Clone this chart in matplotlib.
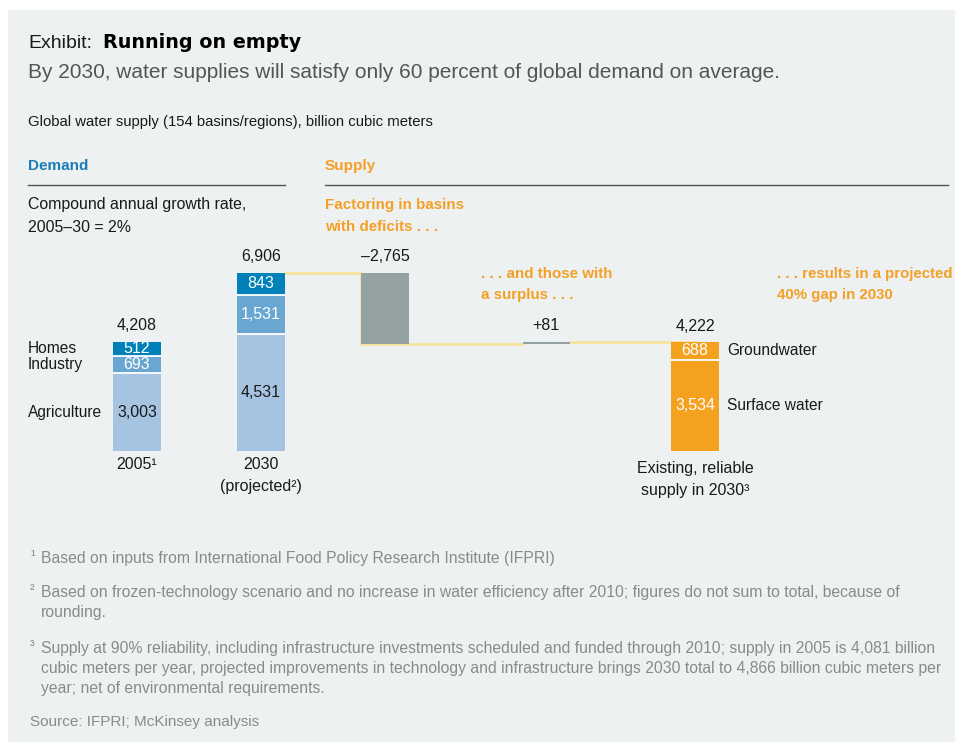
import matplotlib
matplotlib.use("Agg")
import matplotlib.pyplot as plt
from matplotlib import font_manager
from matplotlib.patches import Rectangle

# demand by sector, billion cubic meters
years = ["2005\u00b9", "2030"]
homes = [512, 843]
industry = [693, 1531]
agriculture = [3003, 4531]
demand_total = [4208, 6906]

# supply side of the bridge
deficit = -2765
surplus = 81
groundwater = 688
surface_water = 3534
supply_total = 4222

W, H = 960, 742
names = {f.name for f in font_manager.fontManager.ttflist}
NARROW = "Liberation Sans Narrow" if "Liberation Sans Narrow" in names else "Liberation Sans"

DARK = "#1a1a1a"
BLUE_D = "#0081b9"
BLUE_M = "#6aa6d2"
BLUE_L = "#a6c4e1"
GRAY = "#94a3a1"
ORANGE = "#f3a11f"
ORANGE_TXT = "#f3a024"
YELLOW = "#f6e3a0"
NOTE = "#8a8a8a"

fig = plt.figure(figsize=(W / 100, H / 100), dpi=100, facecolor="white")
fig.patches.append(Rectangle((8 / W, 0), 947 / W, 732 / H, transform=fig.transFigure,
                             facecolor="#edf1f2", edgecolor="none", zorder=-10))


def ftext(x, y, s, **kw):
    kw.setdefault("family", NARROW)
    kw.setdefault("va", "center")
    kw.setdefault("color", DARK)
    fig.text(x / W, 1 - y / H, s, **kw)


# header
ftext(28, 43, "Exhibit:", family="Liberation Sans", fontsize=14)
ftext(103, 43, "Running on empty", family="DejaVu Sans", weight="heavy", fontsize=13.8, color="black")
ftext(28, 73, "By 2030, water supplies will satisfy only 60 percent of global demand on average.",
      family="Liberation Sans", fontsize=15, color="#555555")
ftext(28, 122, "Global water supply (154 basins/regions), billion cubic meters", fontsize=10.7)

ftext(28, 166, "Demand", fontsize=11, weight="bold", color="#1b7db8")
ftext(325, 166, "Supply", fontsize=11, weight="bold", color=ORANGE_TXT)
fig.add_artist(plt.Line2D([28 / W, 285 / W], [1 - 185 / H] * 2, color="#555555", lw=1))
fig.add_artist(plt.Line2D([325 / W, 948 / W], [1 - 185 / H] * 2, color="#555555", lw=1))

ftext(28, 205, "Compound annual growth rate,", fontsize=11.4)
ftext(28, 227, "2005\u201330 = 2%", fontsize=11.4)
ftext(325, 205, "Factoring in basins", fontsize=10.9, weight="bold", color=ORANGE_TXT)
ftext(325, 227, "with deficits . . .", fontsize=10.9, weight="bold", color=ORANGE_TXT)
ftext(481, 274, ". . . and those with", fontsize=10.9, weight="bold", color=ORANGE_TXT)
ftext(481, 295, "a surplus . . .", fontsize=10.9, weight="bold", color=ORANGE_TXT)
ftext(777, 274, ". . . results in a projected", fontsize=10.8, weight="bold", color=ORANGE_TXT)
ftext(777, 295, "40% gap in 2030", fontsize=10.8, weight="bold", color=ORANGE_TXT)

# bar area
ax = fig.add_axes([75 / W, (H - 450.7) / H, 682 / W, 206 / H])
ax.set_xlim(-0.5, 5.0)
ax.set_ylim(0, 8000)
ax.axis("off")

xs = [0, 1]
bw = 0.38
x_def, x_sur, x_sup = 2, 3.3, 4.5

bot_ind = agriculture
bot_home = [a + i for a, i in zip(agriculture, industry)]
ax.bar(xs, agriculture, bw, color=BLUE_L, zorder=2)
ax.bar(xs, industry, bw, bottom=bot_ind, color=BLUE_M, zorder=2)
ax.bar(xs, homes, bw, bottom=bot_home, color=BLUE_D, zorder=2)
ax.hlines(agriculture + bot_home, [x - bw / 2 for x in xs * 2], [x + bw / 2 for x in xs * 2],
          color="white", lw=1.3, zorder=3)

def_bottom = demand_total[1] + deficit
ax.bar(x_def, -deficit, bw, bottom=def_bottom, color=GRAY, zorder=2)
ax.bar(x_sur, surplus, bw, bottom=def_bottom, color=GRAY, zorder=2)
ax.bar(x_sup, surface_water, bw, color=ORANGE, zorder=2)
ax.bar(x_sup, groundwater, bw, bottom=surface_water, color=ORANGE, zorder=2)
ax.hlines(surface_water, x_sup - bw / 2, x_sup + bw / 2, color="white", lw=1.3, zorder=3)

# bridge connectors
lk = dict(color=YELLOW, lw=2, zorder=1)
ax.plot([xs[1] + bw / 2, x_def - bw / 2, x_def - bw / 2, x_sur - bw / 2],
        [demand_total[1], demand_total[1], def_bottom, def_bottom], **lk)
ax.plot([x_sur + bw / 2, x_sup], [supply_total, supply_total], **lk)


def label(x, y, s, dy=0, color=DARK, **kw):
    ax.annotate(s, (x, y), xytext=(0, dy), textcoords="offset points",
                ha="center", va="center", family=NARROW, fontsize=11.5, color=color, **kw)


for x, t, h, i, a in zip(xs, demand_total, homes, industry, agriculture):
    label(x, a + i + h, f"{t:,}", 12)
    label(x, a + i + h / 2, f"{h:,}", color="white")
    label(x, a + i / 2, f"{i:,}", color="white")
    label(x, a / 2, f"{a:,}")
label(x_def, demand_total[1], f"\u2013{-deficit:,}", 12)
label(x_sur, def_bottom + surplus, f"+{surplus}", 12)
label(x_sup, supply_total, f"{supply_total:,}", 11)
label(x_sup, surface_water + groundwater / 2, f"{groundwater:,}", color="white")
label(x_sup, surface_water / 2, f"{surface_water:,}", color="white")

label(xs[0], 0, years[0], -10)
label(xs[1], 0, years[1], -10)
label(xs[1], 0, "(projected\u00b2)", -26)
label(x_sup, 0, "Existing, reliable", -12.5)
label(x_sup, 0, "supply in 2030\u00b3", -28.5)

# side labels for segments
side = [("Homes", agriculture[0] + industry[0] + homes[0] / 2),
        ("Industry", agriculture[0] + industry[0] / 2),
        ("Agriculture", agriculture[0] / 2)]
for s, y in side:
    ax.annotate(s, (28, y), xycoords=("figure pixels", "data"), va="center",
                family=NARROW, fontsize=11.2, color=DARK)
for s, y in [("Groundwater", surface_water + groundwater / 2), ("Surface water", surface_water / 2)]:
    ax.annotate(s, (727, y), xycoords=("figure pixels", "data"), va="center",
                family=NARROW, fontsize=11.2, color=DARK)

# notes
notes = [
    ("\u00b9", 558, ["Based on inputs from International Food Policy Research Institute (IFPRI)"]),
    ("\u00b2", 592, ["Based on frozen-technology scenario and no increase in water efficiency after 2010; figures do not sum to total, because of",
                     "rounding."]),
    ("\u00b3", 648, ["Supply at 90% reliability, including infrastructure investments scheduled and funded through 2010; supply in 2005 is 4,081 billion",
                     "cubic meters per year, projected improvements in technology and infrastructure brings 2030 total to 4,866 billion cubic meters per",
                     "year; net of environmental requirements."]),
]
for mark, y0, lines in notes:
    ftext(30, y0 - 2, mark, fontsize=10, color=NOTE)
    for k, line in enumerate(lines):
        ftext(41, y0 + k * 20.5, line, fontsize=11.3, color=NOTE)
ftext(30, 722, "Source: IFPRI; McKinsey analysis", fontsize=11, color=NOTE)

fig.savefig("out.png", dpi=100, facecolor="white")
